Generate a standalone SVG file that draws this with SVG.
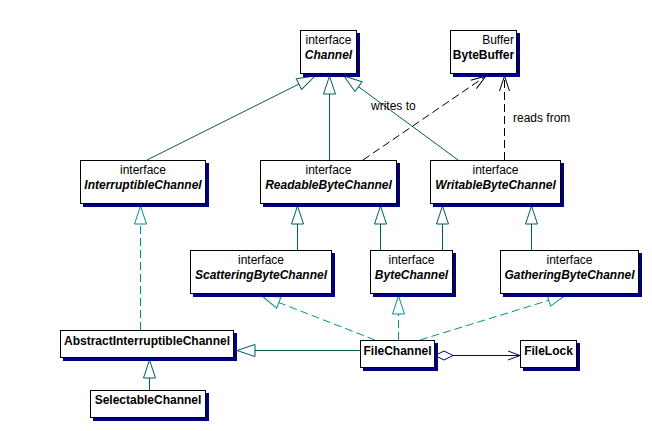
<svg xmlns="http://www.w3.org/2000/svg" width="652" height="431" viewBox="0 0 652 431">
<style>
  text { font-family: "Liberation Sans", Arial, sans-serif; font-size: 12px; fill: #000; }
  .c { text-anchor: middle; }
  .e { text-anchor: end; }
  .bi { font-weight: bold; font-style: italic; }
  .b { font-weight: bold; }
  .box { fill: #fff; stroke: #000; stroke-width: 1; }
  .sh { fill: #000080; }
  .gen { fill: none; stroke: #005a5a; stroke-width: 1; marker-end: url(#tri); }
  .real { fill: none; stroke: #008f8f; stroke-width: 1; stroke-dasharray: 8 4; marker-end: url(#triL); }
  .dep { fill: none; stroke: #000; stroke-width: 1; stroke-dasharray: 8 4; marker-end: url(#open); }
  .agg { fill: none; stroke: #000080; stroke-width: 1; marker-start: url(#dia); marker-end: url(#openN); }
</style>
<defs>
  <marker id="tri" markerUnits="userSpaceOnUse" markerWidth="20" markerHeight="14" refX="18" refY="7" orient="auto" overflow="visible">
    <path d="M0,1 L18,7 L0,13 Z" fill="#fff" stroke="#005a5a" stroke-width="1"/>
  </marker>
  <marker id="triL" markerUnits="userSpaceOnUse" markerWidth="20" markerHeight="14" refX="18" refY="7" orient="auto" overflow="visible">
    <path d="M0,1 L18,7 L0,13 Z" fill="#fff" stroke="#008f8f" stroke-width="1"/>
  </marker>
  <marker id="open" markerUnits="userSpaceOnUse" markerWidth="16" markerHeight="12" refX="15" refY="6" orient="auto" overflow="visible">
    <path d="M0,1 L15,6 L0,11" fill="none" stroke="#000" stroke-width="1"/>
  </marker>
  <marker id="openN" markerUnits="userSpaceOnUse" markerWidth="14" markerHeight="12" refX="12" refY="6" orient="auto" overflow="visible">
    <path d="M0,1.5 L12,6 L0,10.5" fill="none" stroke="#000080" stroke-width="1"/>
  </marker>
  <marker id="dia" markerUnits="userSpaceOnUse" markerWidth="20" markerHeight="12" refX="0" refY="6" orient="auto" overflow="visible">
    <path d="M0,6 L9,1.5 L18,6 L9,10.5 Z" fill="#fff" stroke="#000080" stroke-width="1"/>
  </marker>
</defs>

<g id="connectors">
  <path class="gen" d="M147,160 L315,76"/>
  <path class="gen" d="M329.5,160 L329.5,76"/>
  <path class="gen" d="M458,160 L344,76"/>
  <path class="dep" d="M363,160 L486,76"/>
  <path class="dep" d="M504.5,160 L504.5,76"/>
  <path class="gen" d="M297.5,250 L297.5,206"/>
  <path class="gen" d="M380.5,250 L380.5,206"/>
  <path class="gen" d="M442.5,250 L442.5,206"/>
  <path class="gen" d="M531.5,250 L531.5,206"/>
  <path class="real" d="M140.5,330 L140.5,206"/>
  <path class="gen" d="M149.5,390 L149.5,360"/>
  <path class="gen" d="M360,350.5 L237,350.5"/>
  <path class="real" d="M375,340 L262,296"/>
  <path class="real" d="M398.5,340 L398.5,296"/>
  <path class="real" d="M420,340 L566,295"/>
  <path class="agg" d="M435,355.5 L520,355.5"/>
  <text x="371" y="110">writes to</text>
  <text x="513" y="122">reads from</text>
</g>

<g id="Channel">
  <rect class="sh" x="303" y="33" width="57" height="44"/>
  <rect class="box" x="300.5" y="30.5" width="56" height="43"/>
  <text class="c" x="328.5" y="44">interface</text>
  <text class="c bi" x="328.5" y="59">Channel</text>
</g>
<g id="ByteBuffer">
  <rect class="sh" x="453" y="33" width="67" height="44"/>
  <rect class="box" x="450.5" y="30.5" width="66" height="43"/>
  <text class="e" x="514" y="44">Buffer</text>
  <text class="c b" x="483.5" y="59">ByteBuffer</text>
</g>
<g id="InterruptibleChannel">
  <rect class="sh" x="83" y="163" width="126" height="44"/>
  <rect class="box" x="80.5" y="160.5" width="125" height="43"/>
  <text class="c" x="143" y="174">interface</text>
  <text class="c bi" x="143" y="189">InterruptibleChannel</text>
</g>
<g id="ReadableByteChannel">
  <rect class="sh" x="263" y="163" width="137" height="44"/>
  <rect class="box" x="260.5" y="160.5" width="136" height="43"/>
  <text class="c" x="328.5" y="174">interface</text>
  <text class="c bi" x="328.5" y="189">ReadableByteChannel</text>
</g>
<g id="WritableByteChannel">
  <rect class="sh" x="433" y="163" width="131" height="44"/>
  <rect class="box" x="430.5" y="160.5" width="130" height="43"/>
  <text class="c" x="495.5" y="174">interface</text>
  <text class="c bi" x="495.5" y="189">WritableByteChannel</text>
</g>
<g id="ScatteringByteChannel">
  <rect class="sh" x="193" y="253" width="142" height="44"/>
  <rect class="box" x="190.5" y="250.5" width="141" height="43"/>
  <text class="c" x="261" y="264">interface</text>
  <text class="c bi" x="261" y="279">ScatteringByteChannel</text>
</g>
<g id="ByteChannel">
  <rect class="sh" x="373" y="253" width="83" height="44"/>
  <rect class="box" x="370.5" y="250.5" width="82" height="43"/>
  <text class="c" x="411.5" y="264">interface</text>
  <text class="c bi" x="411.5" y="279">ByteChannel</text>
</g>
<g id="GatheringByteChannel">
  <rect class="sh" x="503" y="253" width="139" height="44"/>
  <rect class="box" x="500.5" y="250.5" width="138" height="43"/>
  <text class="c" x="569.5" y="264">interface</text>
  <text class="c bi" x="569.5" y="279">GatheringByteChannel</text>
</g>
<g id="AbstractInterruptibleChannel">
  <rect class="sh" x="63" y="333" width="174" height="28"/>
  <rect class="box" x="60.5" y="330.5" width="173" height="27"/>
  <text class="c b" x="147" y="344.5">AbstractInterruptibleChannel</text>
</g>
<g id="SelectableChannel">
  <rect class="sh" x="93" y="393" width="116" height="28"/>
  <rect class="box" x="90.5" y="390.5" width="115" height="27"/>
  <text class="c b" x="148" y="404">SelectableChannel</text>
</g>
<g id="FileChannel">
  <rect class="sh" x="363" y="343" width="75" height="28"/>
  <rect class="box" x="360.5" y="340.5" width="74" height="27"/>
  <text class="c b" x="397.5" y="354.5">FileChannel</text>
</g>
<g id="FileLock">
  <rect class="sh" x="523" y="343" width="57" height="28"/>
  <rect class="box" x="520.5" y="340.5" width="56" height="27"/>
  <text class="c b" x="548.5" y="354.5">FileLock</text>
</g>
</svg>
